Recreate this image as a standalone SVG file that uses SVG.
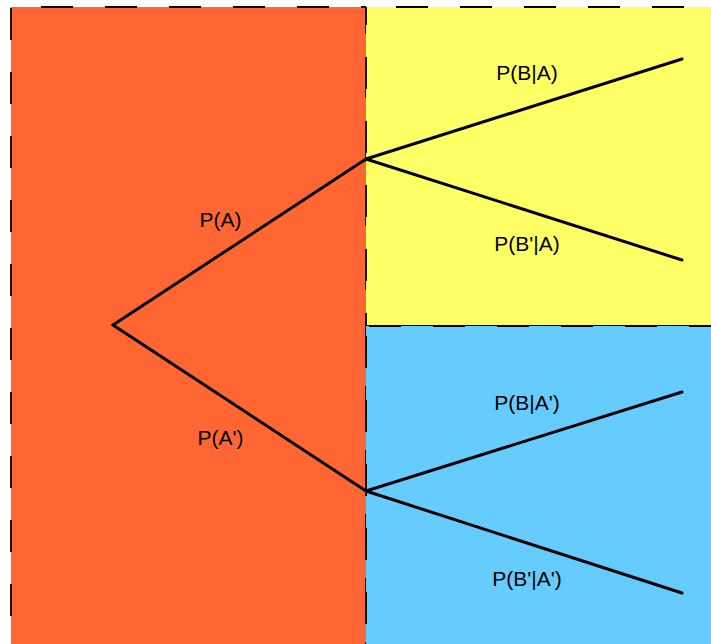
<svg xmlns="http://www.w3.org/2000/svg" width="711" height="644" viewBox="0 0 711 644">
<style>
.dash{stroke:#000;stroke-width:1.8;stroke-dasharray:32 32;fill:none}
.edge{stroke:#000;stroke-width:3;fill:none;stroke-linecap:round}
text{font-family:"Liberation Sans",Arial,sans-serif;font-size:21px;fill:#000;text-anchor:middle}
</style>
<rect width="711" height="644" fill="#fff"/>
<g id="regionA">
<rect x="11" y="7" width="355" height="637" fill="#FF6633"/>
<line class="dash" x1="41" y1="7" x2="366" y2="7"/>
<line class="dash" x1="11" y1="8" x2="11" y2="644"/>
<line class="dash" x1="366" y1="7" x2="366" y2="644" stroke-dashoffset="5"/>
</g>
<g id="regionB">
<rect x="366" y="7" width="345" height="319" fill="#FFFF66"/>
<line class="dash" x1="396" y1="7" x2="711" y2="7"/>
<line class="dash" x1="366" y1="7" x2="366" y2="326" stroke-dashoffset="14"/>
<line class="dash" x1="366" y1="326" x2="711" y2="326" stroke-dashoffset="29"/>
</g>
<g id="regionC">
<rect x="366" y="326" width="345" height="318" fill="#66CCFF"/>
<line class="dash" x1="369" y1="326" x2="711" y2="326"/>
<line class="dash" x1="366" y1="336" x2="366" y2="644"/>
</g>
<g id="connectors">
<line class="edge" x1="113" y1="325" x2="366" y2="159"/>
<line class="edge" x1="113" y1="325" x2="366" y2="491"/>
<line class="edge" x1="366" y1="159" x2="682" y2="59"/>
<line class="edge" x1="366" y1="159" x2="682" y2="260"/>
<line class="edge" x1="366" y1="491" x2="682" y2="392"/>
<line class="edge" x1="366" y1="491" x2="682" y2="593"/>
</g>
<g id="labels">
<text x="220.5" y="227">P(A)</text>
<text x="220.5" y="445">P(A')</text>
<text x="527" y="80">P(B|A)</text>
<text x="527" y="251">P(B'|A)</text>
<text x="527" y="410">P(B|A')</text>
<text x="527" y="586">P(B'|A')</text>
</g>
</svg>
